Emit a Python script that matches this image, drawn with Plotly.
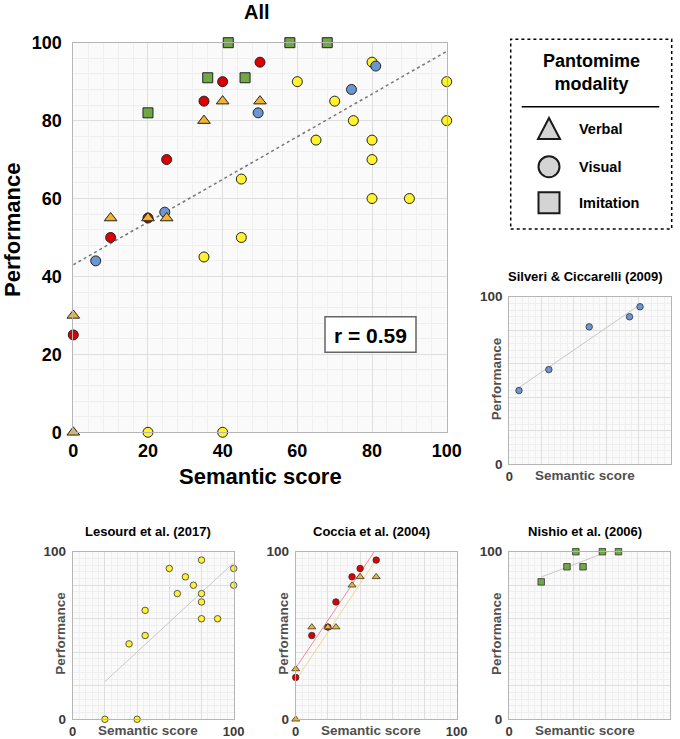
import numpy as np
import plotly.graph_objects as go

W, H = 680, 739

# ---------------- data ----------------
lesourd_x = [20, 40, 35, 45, 45, 60, 65, 70, 75, 80, 80, 80, 80, 90, 100, 100]
lesourd_y = [0, 0, 45, 50, 65, 90, 75, 85, 80, 95, 75, 70, 60, 60, 90, 80]
coccia_visual_x = [0, 10, 20, 25, 35, 40, 50]
coccia_visual_y = [25, 50, 55, 70, 85, 90, 95]
coccia_verbal_x = [0, 0, 10, 20, 25, 35, 40, 50]
coccia_verbal_y = [0, 30, 55, 55, 55, 80, 85, 85]
silveri_x = [6, 24.5, 49.5, 74.5, 81]
silveri_y = [44, 56.5, 82, 88, 94]
nishio_x = [20, 36, 41.5, 46, 58, 68]
nishio_y = [82, 91, 100, 91, 100, 100]

main_ticks = [0, 20, 40, 60, 80, 100]
sub_ticktext = ["0", "", "", "", "", "100"]
r_label = "r = 0.59"

YELLOW = "#FFF22E"
RED = "#DD0000"
BLUE = "#6B96CF"
GREEN = "#70A845"
ORANGE = "#F0B42E"
EDGE = "#222222"

FONT = "Liberation Sans, Arial, sans-serif"


def px(x):
    return x / W


def py(y):
    return 1 - y / H


def fit_line(xs, ys):
    b, a = np.polyfit(np.array(xs, float), np.array(ys, float), 1)
    x0, x1 = min(xs), max(xs)
    return [x0, x1], [a + b * x0, a + b * x1]


fig = go.Figure()

# ---------------- main plot ----------------
all_x = lesourd_x + coccia_visual_x + coccia_verbal_x + silveri_x + nishio_x
all_y = lesourd_y + coccia_visual_y + coccia_verbal_y + silveri_y + nishio_y
lx, ly = fit_line(all_x, all_y)
fig.add_trace(go.Scatter(x=lx, y=ly, mode="lines", xaxis="x", yaxis="y",
                         line=dict(color="#777777", width=1.5, dash="dot"),
                         showlegend=False, hoverinfo="skip"))

main_sets = [
    (lesourd_x, lesourd_y, "circle", YELLOW, 10),
    (coccia_visual_x, coccia_visual_y, "circle", RED, 10),
    (silveri_x, silveri_y, "circle", BLUE, 10),
    (nishio_x, nishio_y, "square", GREEN, 10),
    (coccia_verbal_x, coccia_verbal_y, "triangle-up", ORANGE, 11),
]
for xs, ys, sym, col, sz in main_sets:
    fig.add_trace(go.Scatter(x=xs, y=ys, mode="markers", xaxis="x", yaxis="y",
                             cliponaxis=False, showlegend=False,
                             marker=dict(symbol=sym, color=col, size=sz,
                                         line=dict(color=EDGE, width=1))))

# ---------------- small plots ----------------
sub_defs = {
    "2": dict(dom=(509.3, 670.7, 296.7, 464.3), title="Silveri & Ciccarelli (2009)"),
    "3": dict(dom=(72.7, 233.7, 551.7, 719.3), title="Lesourd et al. (2017)"),
    "4": dict(dom=(295.7, 456.7, 551.7, 719.3), title="Coccia et al. (2004)"),
    "5": dict(dom=(509.0, 670.0, 551.7, 719.3), title="Nishio et al. (2006)"),
}


def sub_points(k, xs, ys, sym, col, sz=6.5):
    fig.add_trace(go.Scatter(x=xs, y=ys, mode="markers", xaxis="x" + k, yaxis="y" + k,
                             cliponaxis=False, showlegend=False,
                             marker=dict(symbol=sym, color=col, size=sz,
                                         line=dict(color="#333333", width=0.8))))


def sub_line(k, xs, ys, col):
    lx, ly = fit_line(xs, ys)
    fig.add_trace(go.Scatter(x=lx, y=ly, mode="lines", xaxis="x" + k, yaxis="y" + k,
                             line=dict(color=col, width=1), showlegend=False,
                             hoverinfo="skip"))


sub_line("2", silveri_x, silveri_y, "#c8c8c8")
sub_points("2", silveri_x, silveri_y, "circle", BLUE)

sub_line("3", lesourd_x, lesourd_y, "#c8c8c8")
sub_points("3", lesourd_x, lesourd_y, "circle", YELLOW)

sub_line("4", coccia_visual_x, coccia_visual_y, "#F08C8C")
sub_line("4", coccia_verbal_x, coccia_verbal_y, "#F5D58A")
sub_points("4", coccia_visual_x, coccia_visual_y, "circle", RED)
sub_points("4", coccia_verbal_x, coccia_verbal_y, "triangle-up", ORANGE, 7)

sub_line("5", nishio_x, nishio_y, "#c8c8c8")
sub_points("5", nishio_x, nishio_y, "square", GREEN)


def base_axis(dom):
    return dict(range=[0, 100], showline=True, linecolor="#b5b5b5", linewidth=1,
                mirror=True, zeroline=False, gridcolor="#dedede", gridwidth=1,
                ticks="", domain=dom, automargin=False,
                minor=dict(tickmode="linear", tick0=0, dtick=4, showgrid=True,
                           gridcolor="#efefef", gridwidth=1))


layout = dict(
    width=W, height=H, margin=dict(l=0, r=0, t=0, b=0, autoexpand=False),
    paper_bgcolor="white", plot_bgcolor="rgba(0,0,0,0)",
    font=dict(family=FONT, color="black"),
    showlegend=False,
)

xa = base_axis([px(73.3), px(446.7)])
xa.update(tickmode="array", tickvals=main_ticks, ticklabelstandoff=2,
          tickfont=dict(family=FONT, size=18, color="black", weight="bold"))
ya = base_axis([py(432.3), py(42.7)])
ya.update(tickmode="array", tickvals=main_ticks, ticklabelstandoff=7,
          tickfont=dict(family=FONT, size=18, color="black", weight="bold"))
layout["xaxis"] = xa
layout["yaxis"] = ya

shapes = []
annotations = []

# backgrounds of plot areas
for k in ["", "2", "3", "4", "5"]:
    shapes.append(dict(type="rect", xref=("x" + k + " domain"), yref=("y" + k + " domain"),
                       x0=0, x1=1, y0=0, y1=1, fillcolor="#fafafa",
                       line=dict(width=0), layer="below"))

for k, d in sub_defs.items():
    l, r, t, b = d["dom"]
    sx = base_axis([px(l), px(r)])
    sx.update(tickmode="array", tickvals=main_ticks, ticktext=sub_ticktext,
              ticklabelstandoff=0, anchor="y" + k,
              tickfont=dict(family=FONT, size=13, color="#3a3a3a", weight="bold"))
    sy = base_axis([py(b), py(t)])
    sy.update(tickmode="array", tickvals=main_ticks, ticktext=sub_ticktext,
              ticklabelstandoff=3, anchor="x" + k,
              tickfont=dict(family=FONT, size=13.5, color="#3a3a3a", weight="bold"))
    layout["xaxis" + k] = sx
    layout["yaxis" + k] = sy
    cx = (l + r) / 2 - 5
    annotations.append(dict(text="<b>" + d["title"] + "</b>", x=px(cx), y=py(t - 20.5),
                            xref="paper", yref="paper", showarrow=False,
                            font=dict(family=FONT, size=13, color="black"),
                            xanchor="center", yanchor="middle"))
    annotations.append(dict(text="<b>Semantic score</b>", x=px(cx), y=py(b + 11.5),
                            xref="paper", yref="paper", showarrow=False,
                            font=dict(family=FONT, size=13.5, color="#505050"),
                            xanchor="center", yanchor="middle"))
    annotations.append(dict(text="<b>Performance</b>", x=px(l - 12.5), y=py((t + b) / 2 - 2),
                            xref="paper", yref="paper", showarrow=False, textangle=-90,
                            font=dict(family=FONT, size=13.5, color="#505050"),
                            xanchor="center", yanchor="middle"))

# main titles
annotations.append(dict(text="<b>All</b>", x=px(257), y=py(12), xref="paper", yref="paper",
                        showarrow=False, font=dict(family=FONT, size=20, color="black"),
                        xanchor="center", yanchor="middle"))
annotations.append(dict(text="<b>Semantic score</b>", x=px(260), y=py(476), xref="paper",
                        yref="paper", showarrow=False,
                        font=dict(family=FONT, size=22, color="black"),
                        xanchor="center", yanchor="middle"))
annotations.append(dict(text="<b>Performance</b>", x=px(12), y=py(230), xref="paper",
                        yref="paper", showarrow=False, textangle=-90,
                        font=dict(family=FONT, size=22, color="black"),
                        xanchor="center", yanchor="middle"))

# r box
shapes.append(dict(type="rect", xref="paper", yref="paper", x0=px(325), x1=px(416),
                   y0=py(352.3), y1=py(316.7), fillcolor="white",
                   line=dict(color="#666666", width=1.5)))
annotations.append(dict(text="<b>" + r_label + "</b>", x=px(370.5), y=py(335), xref="paper",
                        yref="paper", showarrow=False,
                        font=dict(family=FONT, size=21, color="black"),
                        xanchor="center", yanchor="middle"))

# legend box
shapes.append(dict(type="rect", xref="paper", yref="paper", x0=px(510.7), x1=px(671.7),
                   y0=py(229), y1=py(39.3), fillcolor="white",
                   line=dict(color="black", width=1.5, dash="dot")))
shapes.append(dict(type="line", xref="paper", yref="paper", x0=px(521.7), x1=px(659.3),
                   y0=py(106.7), y1=py(106.7), line=dict(color="black", width=1.5)))
annotations.append(dict(text="<b>Pantomime<br>modality</b>", x=px(591), y=py(72.5),
                        xref="paper", yref="paper", showarrow=False,
                        font=dict(family=FONT, size=18, color="black"),
                        xanchor="center", yanchor="middle"))
sym_fill = "#d4d4d4"
cxs = 549
# triangle
tcy = 129
shapes.append(dict(type="path", xref="paper", yref="paper",
                   path=f"M {px(cxs-11)},{py(tcy+10)} L {px(cxs+11)},{py(tcy+10)} L {px(cxs)},{py(tcy-11)} Z",
                   fillcolor=sym_fill, line=dict(color="#1a1a1a", width=2)))
# circle
ccy = 166.7
shapes.append(dict(type="circle", xref="paper", yref="paper",
                   x0=px(cxs - 10.5), x1=px(cxs + 10.5), y0=py(ccy + 10.5), y1=py(ccy - 10.5),
                   fillcolor=sym_fill, line=dict(color="#1a1a1a", width=2)))
# square
scy = 202.7
shapes.append(dict(type="rect", xref="paper", yref="paper",
                   x0=px(cxs - 10.5), x1=px(cxs + 10.5), y0=py(scy + 10.5), y1=py(scy - 10.5),
                   fillcolor=sym_fill, line=dict(color="#1a1a1a", width=2)))
for label, yy in [("Verbal", tcy), ("Visual", ccy), ("Imitation", scy)]:
    annotations.append(dict(text="<b>" + label + "</b>", x=px(576.5), y=py(yy), xref="paper",
                            yref="paper", showarrow=False,
                            font=dict(family=FONT, size=14.5, color="black"),
                            xanchor="left", yanchor="middle"))

layout["shapes"] = shapes
layout["annotations"] = annotations
fig.update_layout(**layout)

fig.write_html("out.html", config={"displayModeBar": False},
               post_script="document.body.style.margin='0px';document.body.style.padding='0px';")
